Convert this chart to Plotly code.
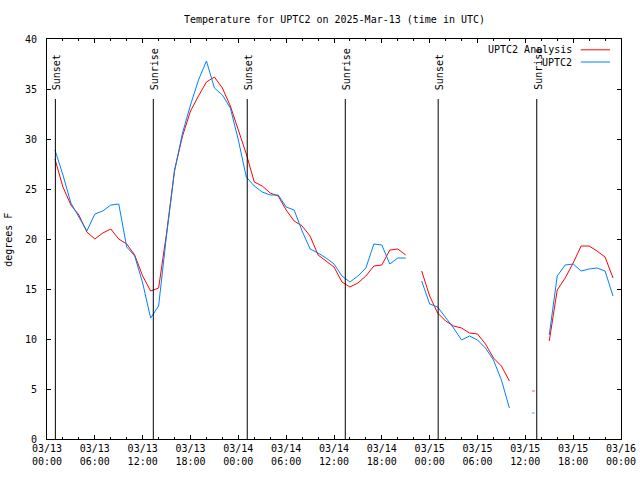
import plotly.graph_objects as go
from datetime import datetime, timedelta

# ---------------- data ----------------
start = datetime(2025, 3, 13, 0, 0)
hours = list(range(1, 72))
times = [start + timedelta(hours=h) for h in hours]

analysis_f = [28.0, 25.2, 23.4, 22.4, 20.7, 20.0, 20.6, 21.0, 20.0, 19.5, 18.4, 16.3, 14.8, 15.1,
              20.6, 26.9, 30.3, 32.8, 34.3, 35.7, 36.2, 35.1, 33.3, 30.8, 28.5, 25.7, 25.3, 24.6,
              24.3, 22.9, 21.8, 21.3, 20.3, 18.4, 17.8, 17.2, 15.7, 15.2, 15.6, 16.3, 17.3, 17.4,
              18.9, 19.0, 18.4, None, 16.8, 14.3, 12.6, 11.8, 11.3, 11.1, 10.6, 10.5, 9.5, 8.1,
              7.3, 5.8, None, None, 4.8, None, 9.8, 14.9, 16.1, 17.6, 19.3, 19.3, 18.8, 18.2, 16.1]

observed_f = [28.9, 26.4, 23.6, 22.2, 20.8, 22.5, 22.8, 23.4, 23.5, 19.2, 18.3, 15.6, 12.1, 13.3,
              20.4, 26.8, 30.6, 33.4, 35.9, 37.8, 35.1, 34.4, 33.1, 29.9, 26.2, 25.3, 24.7, 24.4,
              24.4, 23.2, 22.9, 20.8, 19.0, 18.6, 18.1, 17.5, 16.3, 15.7, 16.3, 17.1, 19.5, 19.4,
              17.5, 18.1, 18.1, None, 15.8, 13.5, 13.2, 12.2, 11.1, 9.9, 10.3, 9.9, 9.1, 7.9,
              5.9, 3.1, None, None, 2.6, None, 10.4, 16.3, 17.4, 17.5, 16.8, 17.0, 17.1, 16.8, 14.3]

event_labels = ["Sunset", "Sunrise", "Sunset", "Sunrise", "Sunset", "Sunrise"]
event_times = ["2025-03-13 01:03", "2025-03-13 13:20", "2025-03-14 01:07",
               "2025-03-14 13:25", "2025-03-15 01:04", "2025-03-15 13:26"]
event_line_top = 34.0
event_text_bottom = 34.7

series_names = ["UPTC2 Analysis", "UPTC2"]
series_colors = ["#ff0000", "#0080ff"]

title_text = "Temperature for UPTC2 on 2025-Mar-13 (time in UTC)"
y_title = "degrees F"

FONT = "DejaVu Sans Mono"


def isolated_sizes(vals):
    out = []
    for i, v in enumerate(vals):
        prev_none = i == 0 or vals[i - 1] is None
        next_none = i == len(vals) - 1 or vals[i + 1] is None
        out.append(2 if (v is not None and prev_none and next_none) else 0)
    return out


fig = go.Figure()
for vals, name, col in zip([analysis_f, observed_f], series_names, series_colors):
    fig.add_trace(go.Scatter(
        x=times, y=vals, name=name, mode="lines+markers",
        line=dict(color=col, width=1),
        marker=dict(symbol="line-ew", size=isolated_sizes(vals),
                    line=dict(color=col, width=1)),
        connectgaps=False, showlegend=False, hoverinfo="skip"))

# sunrise / sunset lines and labels
for lab, t in zip(event_labels, event_times):
    fig.add_shape(type="line", xref="x", yref="y", x0=t, x1=t, y0=0, y1=event_line_top,
                  line=dict(color="black", width=1))
    fig.add_annotation(x=t, y=event_text_bottom, xref="x", yref="y", text=lab,
                       textangle=-90, showarrow=False, xanchor="center", yanchor="bottom",
                       xshift=1.0, font=dict(family=FONT, size=10, color="black"))

# custom legend (text right-aligned, sample line to the right)
leg_y = [0.973, 0.9425]
for name, col, yy in zip(series_names, series_colors, leg_y):
    fig.add_annotation(x=0.918, y=yy, xref="paper", yref="paper", text=name,
                       showarrow=False, xanchor="right", yanchor="middle",
                       font=dict(family=FONT, size=10, color="black"))
    fig.add_shape(type="line", xref="paper", yref="paper", x0=0.930, x1=0.981, y0=yy, y1=yy,
                  line=dict(color=col, width=1))

# title and y-axis title
fig.add_annotation(x=0.5, y=(439.3 - 20) / 400, xref="paper", yref="paper", text=title_text,
                   showarrow=False, yanchor="middle",
                   font=dict(family=FONT, size=10, color="black"))
fig.add_annotation(x=(9 - 47) / 574, y=0.498, xref="paper", yref="paper", text=y_title,
                   textangle=-90, showarrow=False, xanchor="center", yanchor="middle",
                   font=dict(family=FONT, size=10, color="black"))

fig.update_layout(
    width=640, height=480, autosize=False,
    margin=dict(l=47, r=19, t=39, b=41, pad=0),
    paper_bgcolor="white", plot_bgcolor="white",
    font=dict(family=FONT, size=10, color="black"),
    showlegend=False, hovermode=False,
)
fig.update_xaxes(
    type="date", range=["2025-03-13 00:00", "2025-03-16 00:00"],
    tick0="2025-03-13 00:00", dtick=6 * 3600 * 1000, tickformat="%m/%d<br>%H:%M",
    ticks="inside", ticklen=4, tickcolor="black", tickwidth=1,
    minor=dict(dtick=2 * 3600 * 1000, ticks="inside", ticklen=2, tickcolor="black", tickwidth=1,
               showgrid=False),
    showline=True, linecolor="black", linewidth=1, mirror="ticks",
    showgrid=False, zeroline=False, automargin=False,
    tickfont=dict(family=FONT, size=10, color="black"),
)
fig.update_yaxes(
    range=[0, 40], dtick=5, tick0=0,
    ticks="inside", ticklen=4, tickcolor="black", tickwidth=1,
    showline=True, linecolor="black", linewidth=1, mirror="ticks",
    showgrid=False, zeroline=False, automargin=False, ticklabelstandoff=7,
    tickfont=dict(family=FONT, size=10, color="black"),
)

fig.write_html("out.html", config={"displayModeBar": False},
               post_script="document.body.style.margin='0';")
